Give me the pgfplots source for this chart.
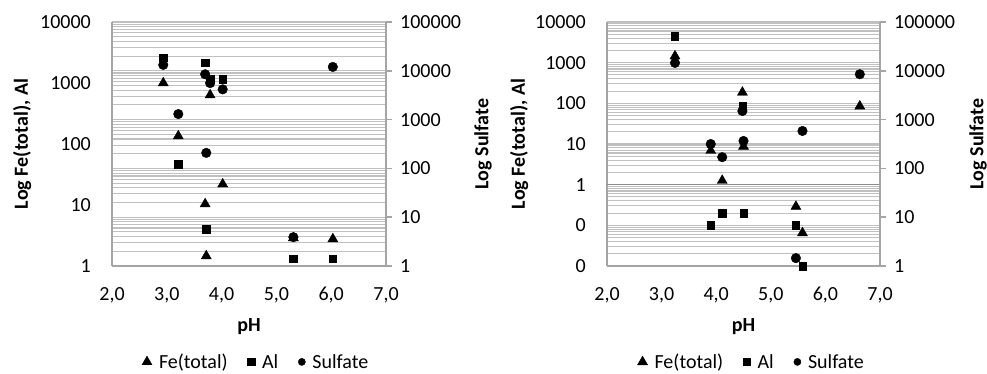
\documentclass[border=0pt]{standalone}
\usepackage{pgfplots}
\pgfplotsset{compat=1.18}
\usepackage{fontspec}
\setmainfont{Carlito}
\definecolor{gridc}{RGB}{192,192,192}
\definecolor{axc}{RGB}{165,165,165}
\definecolor{axdark}{RGB}{140,140,140}
\newcommand{\lblfont}{\fontsize{20}{24}\selectfont\bfseries}
\begin{document}
\begin{tikzpicture}
\useasboundingbox (0,0) rectangle (987pt,373pt);
\pgfplotsset{
  myBase/.style={scale only axis, height=244pt, xmin=2, xmax=7,
    anchor=south west,
    tick label style={font=\fontsize{20}{24}\selectfont, text=black},
    axis line style={axc, line width=1.5pt},
    major tick length=0pt, minor tick length=0pt,
    grid style={gridc, line width=1.1pt},
    clip marker paths=false,
  },
  myPrim/.style={myBase, axis y line*=left, axis x line*=bottom,
    xtick={2,3,4,5,6,7}, xticklabels={{2,0},{3,0},{4,0},{5,0},{6,0},{7,0}},
    xlabel={pH}, ylabel={Log Fe(total), Al},
    xticklabel style={anchor=north, inner sep=0pt, yshift=-21pt},
    yticklabel style={anchor=east, inner sep=0pt, xshift=-21pt},
    every axis x label/.style={at={(axis description cs:0.5,-0.25)}, anchor=center, font=\lblfont},
    legend columns=3,
    legend style={draw=none, fill=none, font=\fontsize{20}{24}\selectfont, anchor=center,
      /tikz/every odd column/.append style={column sep=5pt},
      /tikz/every even column/.append style={column sep=18pt}},
  },
  mySec/.style={myBase, axis y line*=right, axis x line=none,
    ymin=1, ymax=100000,
    ytick={1,10,100,1000,10000,100000}, yticklabels={1,10,100,1000,10000,100000},
    ytick pos=right, tick align=outside, major tick length=6pt,
    ytick style={axc, line width=1.5pt},
    yticklabel style={anchor=west, inner sep=0pt, xshift=8pt},
    ylabel={Log Sulfate},
  },
  myFe/.style={only marks, mark=triangle*, mark size=5.8pt, black},
  myAl/.style={only marks, mark=square*, mark size=3.7pt, black},
  mySu/.style={only marks, mark=*, mark size=4.8pt, black},
}
%%%%%%%%%%%%%%%% LEFT PANEL
\begin{axis}[ymode=log, mySec, at={(112pt,107pt)}, width=274pt,
  ymajorgrids, yminorgrids,
  minor ytick={2,3,4,5,6,7,8,9,20,30,40,50,60,70,80,90,200,300,400,500,600,700,800,900,2000,3000,4000,5000,6000,7000,8000,9000,20000,30000,40000,50000,60000,70000,80000,90000},
  every axis y label/.style={at={(axis description cs:1.354,0.5)}, rotate=90, anchor=center, font=\lblfont}]
\addplot[mySu] coordinates {(2.935,13200) (3.21,1300) (3.70,8500) (3.79,5600) (4.02,4170) (3.72,208) (5.31,3.9) (6.03,12000)};
\end{axis}
\begin{axis}[ymode=log, myPrim, at={(112pt,107pt)}, width=274pt,
  ymin=1, ymax=10000,
  ytick={1,10,100,1000,10000}, yticklabels={1,10,100,1000,10000},
  every axis y label/.style={at={(axis description cs:-0.328,0.5)}, rotate=90, anchor=center, font=\lblfont},
  legend style={at={(0.526,-0.393)}}]
\addplot[myFe] coordinates {(2.935,1000) (3.21,135) (3.79,635) (4.02,22) (3.70,10.4) (3.72,1.46) (5.31,2.88) (6.03,2.77)};
\addlegendentry{Fe(total)}
\addplot[myAl] coordinates {(2.935,2600) (3.21,47) (3.70,2150) (3.79,1150) (4.02,1150) (3.72,4.0) (5.31,1.32) (6.03,1.32)};
\addlegendentry{Al}
\addlegendimage{only marks, mark=*, mark size=3.6pt, black}
\addlegendentry{Sulfate}
\end{axis}
%%%%%%%%%%%%%%%% RIGHT PANEL
\begin{axis}[ymode=log, myPrim, at={(607pt,107pt)}, width=273pt,
  ymin=0.01, ymax=10000,
  ytick={0.01,0.1,1,10,100,1000,10000}, yticklabels={0,0,1,10,100,1000,10000},
  ymajorgrids, yminorgrids,
  minor ytick={0.02,0.03,0.04,0.05,0.06,0.07,0.08,0.09,0.2,0.3,0.4,0.5,0.6,0.7,0.8,0.9,2,3,4,5,6,7,8,9,20,30,40,50,60,70,80,90,200,300,400,500,600,700,800,900,2000,3000,4000,5000,6000,7000,8000,9000},
  extra y ticks={1}, extra y tick labels={},
  extra y tick style={grid=major, major grid style={axdark, line width=1.6pt}},
  every axis y label/.style={at={(axis description cs:-0.322,0.5)}, rotate=90, anchor=center, font=\lblfont},
  legend style={at={(0.53,-0.393)}}]
\addplot[myFe] coordinates {(3.245,1450) (3.90,6.9) (4.11,1.26) (4.48,186) (4.50,8.7) (5.46,0.29) (5.58,0.065) (6.63,85)};
\addlegendentry{Fe(total)}
\addplot[myAl] coordinates {(3.245,4500) (4.11,0.2) (3.90,0.1) (4.48,85) (4.50,0.2) (5.46,0.1) (5.58,0.01)};
\addlegendentry{Al}
\addlegendimage{only marks, mark=*, mark size=3.6pt, black}
\addlegendentry{Sulfate}
\end{axis}
\begin{axis}[ymode=log, mySec, at={(607pt,107pt)}, width=273pt,
  every axis y label/.style={at={(axis description cs:1.359,0.5)}, rotate=90, anchor=center, font=\lblfont}]
\addplot[mySu] coordinates {(3.245,14500) (3.90,316) (4.11,170) (4.48,1500) (4.50,365) (5.58,585) (5.46,1.45) (6.63,8500)};
\end{axis}
\end{tikzpicture}
\end{document}
